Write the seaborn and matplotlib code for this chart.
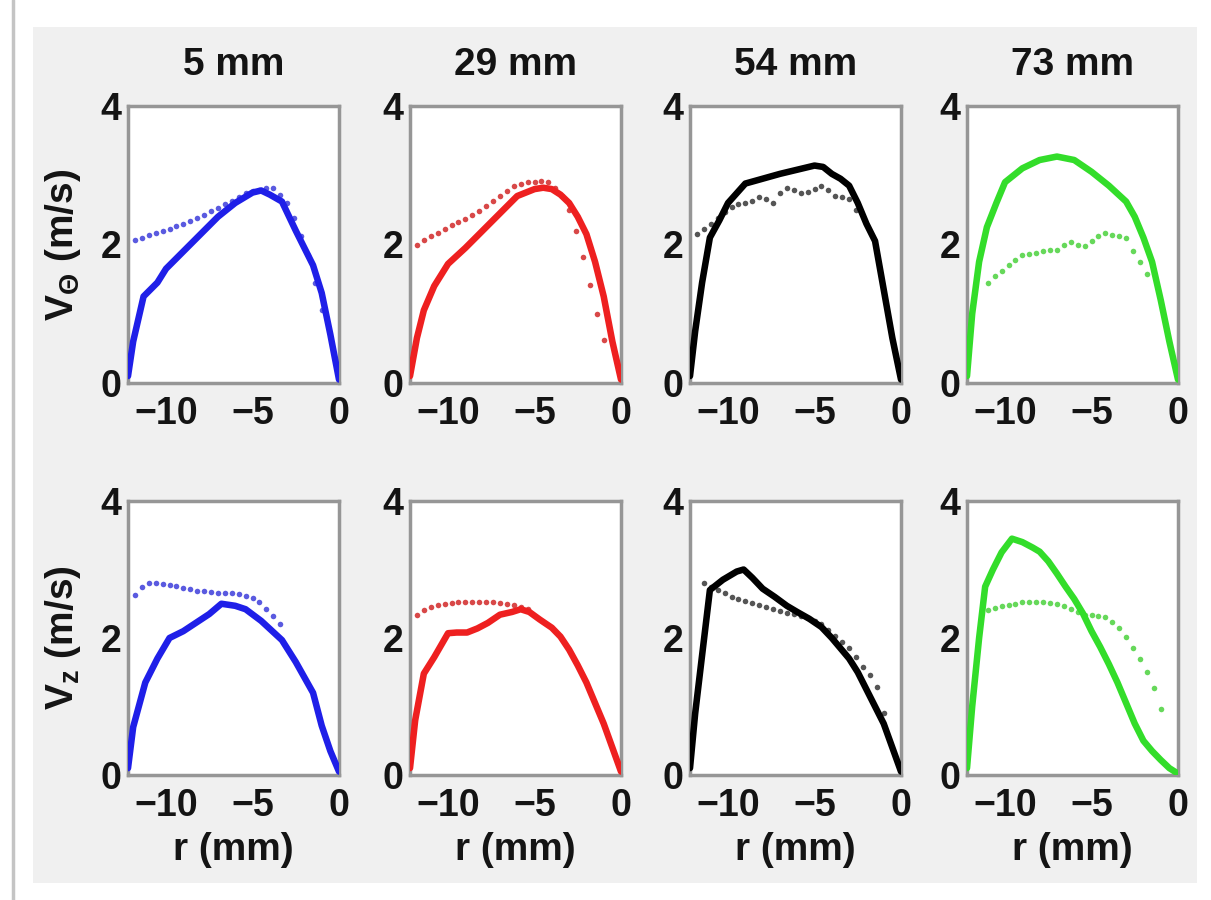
import numpy as np
import pandas as pd
import seaborn as sns
import matplotlib.pyplot as plt
from matplotlib.patches import Rectangle
from matplotlib.lines import Line2D

nan = np.nan

# ---------------- data ----------------
titles = ["5 mm", "29 mm", "54 mm", "73 mm"]
line_colors = ["#1f1fe8", "#ee2020", "#000000", "#33dd2a"]
dot_colors = ["#5a5ae0", "#d84848", "#555555", "#66d85a"]

# measured profiles share one radial grid (mm)
r_meas = [-11.8, -11.4, -11.0, -10.6, -10.2, -9.8, -9.4, -9.0, -8.6, -8.2,
          -7.8, -7.4, -7.0, -6.6, -6.2, -5.8, -5.4, -5.0, -4.6, -4.2,
          -3.8, -3.4, -3.0, -2.6, -2.2, -1.8, -1.4, -1.0, -0.6]

# tangential velocity V_theta, measured (m/s)
vt_meas_5 = [2.07, 2.10, 2.13, 2.16, 2.20, 2.23, 2.27, 2.30, 2.34, 2.38,
             2.43, 2.48, 2.53, 2.58, 2.63, 2.69, 2.74, 2.77, 2.79, 2.81,
             2.82, 2.72, 2.60, 2.38, 2.12, 1.85, 1.45, 1.05, nan]
vt_meas_29 = [2.00, 2.06, 2.12, 2.17, 2.23, 2.28, 2.33, 2.37, 2.42, 2.48,
              2.56, 2.63, 2.70, 2.77, 2.84, 2.88, 2.90, 2.90, 2.92, 2.90,
              2.82, 2.70, 2.50, 2.20, 1.82, 1.42, 1.00, 0.62, nan]
vt_meas_54 = [2.15, 2.22, 2.30, 2.38, 2.47, 2.54, 2.58, 2.60, 2.63, 2.68,
              2.65, 2.60, 2.75, 2.82, 2.78, 2.74, 2.76, 2.80, 2.85, 2.78,
              2.70, 2.68, 2.65, 2.50, nan, nan, nan, nan, nan]
vt_meas_73 = [nan, nan, 1.45, 1.55, 1.62, 1.70, 1.78, 1.85, 1.87, 1.88,
              1.90, 1.92, 1.92, 2.00, 2.03, 2.00, 1.98, 2.05, 2.12, 2.17,
              2.13, 2.12, 2.10, 1.90, 1.75, 1.58, nan, nan, nan]

# axial velocity V_z, measured (m/s)
vz_meas_5 = [2.63, 2.75, 2.80, 2.80, 2.79, 2.78, 2.76, 2.73, 2.71, 2.69,
             2.68, 2.67, 2.66, 2.65, 2.65, 2.64, 2.62, 2.58, 2.52, 2.42,
             2.32, 2.20, nan, nan, nan, nan, nan, nan, nan]
vz_meas_29 = [2.34, 2.41, 2.45, 2.48, 2.50, 2.51, 2.52, 2.52, 2.53, 2.53,
              2.53, 2.52, 2.51, 2.50, 2.48, 2.45, 2.42, nan, nan, nan,
              nan, nan, nan, nan, nan, nan, nan, nan, nan]
vz_meas_54 = [nan, 2.80, 2.75, 2.70, 2.65, 2.60, 2.57, 2.54, 2.51, 2.48,
              2.45, 2.42, 2.40, 2.37, 2.35, 2.32, 2.29, 2.25, 2.20, 2.12,
              2.03, 1.94, 1.85, 1.72, 1.58, 1.46, 1.28, 0.90, nan]
vz_meas_73 = [nan, nan, 2.41, 2.44, 2.46, 2.48, 2.50, 2.52, 2.53, 2.53,
              2.52, 2.51, 2.49, 2.46, 2.42, 2.38, 2.34, 2.33, 2.32, 2.30,
              2.24, 2.15, 2.02, 1.86, 1.70, 1.50, 1.27, 0.97, nan]

# simulated profiles (solid curves)
r_vt_5 = [-12.2, -11.9, -11.3, -10.5, -10.0, -9.0, -8.0, -7.0, -6.0, -5.0,
          -4.5, -4.0, -3.3, -2.5, -1.5, -1.0, -0.5, 0.0]
vt_sim_5 = [0.10, 0.60, 1.25, 1.45, 1.65, 1.90, 2.15, 2.40, 2.60, 2.75,
            2.78, 2.72, 2.62, 2.20, 1.70, 1.30, 0.70, 0.05]

r_vt_29 = [-12.2, -11.8, -11.4, -10.8, -10.0, -9.0, -8.0, -7.0, -6.0, -5.0,
           -4.5, -4.0, -3.5, -3.0, -2.5, -2.0, -1.5, -1.0, -0.5, 0.0]
vt_sim_29 = [0.10, 0.65, 1.05, 1.40, 1.72, 1.95, 2.20, 2.45, 2.70, 2.80,
             2.82, 2.80, 2.72, 2.60, 2.40, 2.15, 1.75, 1.25, 0.60, 0.05]

r_vt_54 = [-12.2, -11.9, -11.5, -11.05, -10.5, -10.0, -9.0, -8.0, -7.0, -6.0,
           -5.0, -4.5, -4.0, -3.5, -3.0, -2.5, -2.0, -1.5, -1.0, -0.5, 0.0]
vt_sim_54 = [0.10, 0.75, 1.45, 2.10, 2.35, 2.60, 2.88, 2.95, 3.02, 3.08,
             3.14, 3.12, 3.02, 2.95, 2.85, 2.60, 2.30, 2.05, 1.35, 0.65, 0.05]

r_vt_73 = [-12.2, -11.9, -11.5, -11.05, -10.5, -10.0, -9.0, -8.0, -7.0, -6.0,
           -5.0, -4.0, -3.0, -2.5, -2.0, -1.5, -1.0, -0.5, 0.0]
vt_sim_73 = [0.10, 1.00, 1.75, 2.25, 2.60, 2.90, 3.10, 3.22, 3.27, 3.22,
             3.05, 2.85, 2.62, 2.40, 2.10, 1.75, 1.20, 0.60, 0.05]

r_vz_5 = [-12.2, -11.9, -11.2, -10.5, -9.8, -9.0, -8.4, -7.5, -6.8, -6.0,
          -5.4, -4.5, -3.3, -2.5, -1.5, -1.0, -0.5, 0.0]
vz_sim_5 = [0.10, 0.70, 1.35, 1.70, 2.00, 2.10, 2.20, 2.35, 2.50, 2.47,
            2.42, 2.25, 1.97, 1.65, 1.20, 0.72, 0.35, 0.05]

r_vz_29 = [-12.2, -11.9, -11.4, -10.8, -10.0, -9.5, -8.9, -8.3, -7.7, -7.0,
           -6.3, -5.8, -5.3, -4.7, -4.0, -3.5, -3.0, -2.5, -2.0, -1.5,
           -1.0, -0.5, 0.0]
vz_sim_29 = [0.10, 0.80, 1.48, 1.72, 2.07, 2.08, 2.08, 2.14, 2.22, 2.34,
             2.38, 2.42, 2.38, 2.27, 2.15, 2.02, 1.83, 1.60, 1.35, 1.05,
             0.75, 0.40, 0.05]

r_vz_54 = [-12.2, -11.9, -11.5, -11.05, -10.3, -9.5, -9.1, -8.6, -8.0, -7.3,
           -6.6, -6.0, -5.3, -4.6, -4.0, -3.5, -3.0, -2.5, -2.0, -1.5,
           -1.0, -0.5, 0.0]
vz_sim_54 = [0.10, 0.90, 1.75, 2.70, 2.85, 2.97, 3.00, 2.88, 2.72, 2.60,
             2.47, 2.38, 2.28, 2.16, 2.00, 1.85, 1.70, 1.50, 1.25, 1.00,
             0.75, 0.40, 0.05]

r_vz_73 = [-12.2, -11.9, -11.5, -11.15, -10.7, -10.2, -9.6, -9.0, -8.4, -8.0,
           -7.5, -7.0, -6.5, -6.0, -5.5, -5.0, -4.5, -4.0, -3.5, -3.0,
           -2.5, -2.0, -1.5, -1.0, -0.5, 0.0]
vz_sim_73 = [0.10, 1.00, 2.00, 2.75, 3.00, 3.25, 3.45, 3.40, 3.32, 3.26,
             3.12, 2.94, 2.75, 2.57, 2.36, 2.10, 1.87, 1.62, 1.35, 1.05,
             0.75, 0.50, 0.35, 0.22, 0.10, 0.02]

x_ticks = [-10, -5, 0]
y_ticks = [0, 2, 4]
row_labels = ["V$_{\\Theta}$ (m/s)", "V$_{z}$ (m/s)"]

rows = [
    [(r_vt_5, vt_sim_5, vt_meas_5), (r_vt_29, vt_sim_29, vt_meas_29),
     (r_vt_54, vt_sim_54, vt_meas_54), (r_vt_73, vt_sim_73, vt_meas_73)],
    [(r_vz_5, vz_sim_5, vz_meas_5), (r_vz_29, vz_sim_29, vz_meas_29),
     (r_vz_54, vz_sim_54, vz_meas_54), (r_vz_73, vz_sim_73, vz_meas_73)],
]

# ---------------- style ----------------
sns.set_style("white")
TEXT = "#141414"
plt.rcParams["font.family"] = ["Liberation Sans", "DejaVu Sans"]
plt.rcParams["font.weight"] = "bold"
plt.rcParams["text.color"] = TEXT
plt.rcParams["axes.labelcolor"] = TEXT
plt.rcParams["mathtext.fontset"] = "custom"
plt.rcParams["mathtext.rm"] = "Liberation Sans:bold"
plt.rcParams["mathtext.it"] = "Liberation Sans:bold"
plt.rcParams["mathtext.bf"] = "Liberation Sans:bold"
plt.rcParams["axes.unicode_minus"] = True

W, H = 1211, 900
fig = plt.figure(figsize=(W / 100, H / 100), dpi=100, facecolor="white")

# grey backdrop and left rule, kept beneath the axes
fig.patches.append(Rectangle((33 / W, 1 - 883 / H), (1197 - 33) / W, (883 - 27) / H,
                             transform=fig.transFigure, facecolor="#f0f0f0",
                             edgecolor="none", zorder=-2))
fig.lines.append(Line2D([13 / W, 13 / W], [0, 1], transform=fig.transFigure,
                        color="#c4c4c4", linewidth=2.5, zorder=-1))

col_left = [128, 410, 690, 967]
ax_w = 211
row_top = [106, 501]
row_bottom = [383, 775]

FS_TICK = 27
FS_LAB = 28
for i, row in enumerate(rows):
    for j, (r_sim, v_sim, v_meas) in enumerate(row):
        ax = fig.add_axes([col_left[j] / W, 1 - row_bottom[i] / H,
                           ax_w / W, (row_bottom[i] - row_top[i]) / H])
        ax.set_facecolor("white")
        sim_df = pd.DataFrame({"r": r_sim, "v": v_sim})
        meas_df = pd.DataFrame({"r": r_meas, "v": v_meas}).dropna()
        sns.lineplot(data=sim_df, x="r", y="v", ax=ax, color=line_colors[j],
                     linewidth=4.7, estimator=None, sort=False, zorder=3)
        sns.scatterplot(data=meas_df, x="r", y="v", ax=ax, color=dot_colors[j],
                        s=16, linewidth=0, zorder=2)
        ax.set_xlim(-12.2, 0)
        ax.set_ylim(0, 4)
        ax.set_xticks(x_ticks)
        ax.set_yticks(y_ticks)
        ax.tick_params(axis="both", which="major", labelsize=FS_TICK, direction="in",
                       length=4, width=1, color="#999999", labelcolor=TEXT)
        ax.tick_params(axis="x", pad=9)
        ax.tick_params(axis="y", pad=5)
        for lab in ax.get_xticklabels() + ax.get_yticklabels():
            lab.set_fontweight("bold")
        for sp in ax.spines.values():
            sp.set_color("#969696")
            sp.set_linewidth(2.5)
        ax.set_xlabel("r (mm)" if i == 1 else "", fontsize=FS_LAB, fontweight="bold",
                      labelpad=6)
        if j == 0:
            ax.set_ylabel(row_labels[i], fontsize=FS_LAB, fontweight="bold", labelpad=12)
        else:
            ax.set_ylabel("")
        if i == 0:
            ax.set_title(titles[j], fontsize=FS_LAB, fontweight="bold", pad=22)

fig.savefig("out.png", dpi=100, facecolor="white")
